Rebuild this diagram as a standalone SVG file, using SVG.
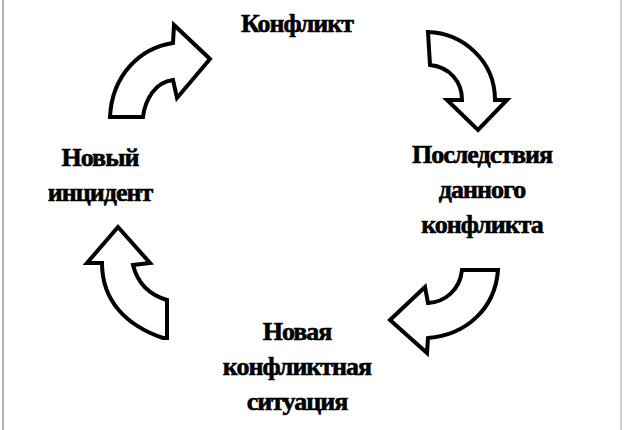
<svg xmlns="http://www.w3.org/2000/svg" width="634" height="430" viewBox="0 0 634 430">
<style>
.t{font-family:"Liberation Serif",serif;font-weight:bold;font-size:26px;text-anchor:middle;fill:#000;letter-spacing:-1px;stroke:#000;stroke-width:0.6}
.a{fill:#fff;stroke:#000;stroke-width:4;stroke-linejoin:miter}
</style>
<rect width="634" height="430" fill="#fff"/>
<line x1="3" y1="0" x2="3" y2="430" stroke="#999" stroke-width="1.5"/>
<line x1="621" y1="0" x2="621" y2="430" stroke="#bbb" stroke-width="1.5"/>
<g id="connectors">
<path class="a" d="M110,117 C112,75 140,48 173,43 L174,25 L210,59 L177,98 L173,80 C155,82 145,100 143,117 Z"/>
<path class="a" d="M428,32 C462,33 495,60 495,100 L507,100 L478,130 L447,100 L462,100 C462,82 450,67 430,65 Z"/>
<path class="a" d="M462,270 L498,270 C495,310 465,335 428,338 L427,353 L390,320 L425,287 L428,303 C445,302 460,290 462,270 Z"/>
<path class="a" d="M167,338 L163,338 C125,325 102,300 102,263 L87,263 L118,227 L150,263 L133,265 C138,285 150,295 167,300 Z"/>
</g>
<g id="n1"><text class="t" x="297" y="32">Конфликт</text></g>
<g id="n2"><text class="t" x="482" y="163">Последствия</text><text class="t" x="482" y="198">данного</text><text class="t" x="482" y="233">конфликта</text></g>
<g id="n3"><text class="t" x="297" y="340">Новая</text><text class="t" x="297" y="375">конфликтная</text><text class="t" x="297" y="410">ситуация</text></g>
<g id="n4"><text class="t" x="100" y="166">Новый</text><text class="t" x="100" y="201">инцидент</text></g>
</svg>
